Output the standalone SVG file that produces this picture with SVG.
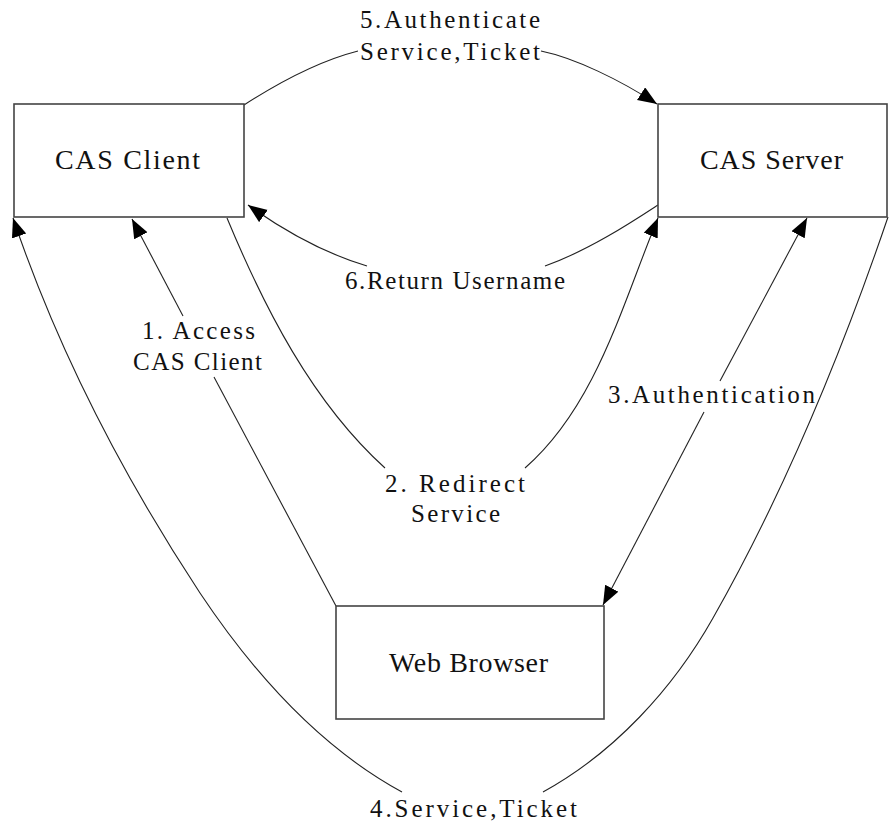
<svg xmlns="http://www.w3.org/2000/svg" width="890" height="825" viewBox="0 0 890 825">
  <defs>
    <marker id="arrow" markerUnits="userSpaceOnUse" markerWidth="22" markerHeight="16" refX="19" refY="7.5" orient="auto">
      <path d="M0,0 L19,7.5 L0,15 z" fill="#000"/>
    </marker>
  </defs>
  <style>
    .node rect { fill: #fff; stroke: #444; stroke-width: 1.6; }
    .node text { font-family: "Liberation Serif", "Times New Roman", serif; font-size: 28px; fill: #111; }
    .conn path { fill: none; stroke: #222; stroke-width: 1.1; }
    .lbl { font-family: "Liberation Serif", "Times New Roman", serif; font-size: 25px; fill: #111; }
  </style>
  <rect width="890" height="825" fill="#fff"/>

  <g id="connectors" class="conn">
    <!-- 1. browser to client -->
    <path d="M336,606 L214,377"/>
    <path d="M183,316 L132,219" marker-end="url(#arrow)"/>
    <!-- 2. client redirect to server -->
    <path d="M227,218 C264,307 312,402 385,468"/>
    <path d="M525,468 C596,406 622,305 658,218" marker-end="url(#arrow)"/>
    <!-- 3. authentication, both ways -->
    <path d="M720,381 L807,218" marker-end="url(#arrow)"/>
    <path d="M704,412 L603,605" marker-end="url(#arrow)"/>
    <!-- 4. service ticket loop -->
    <path d="M402,792 C319,747 252,671 200,593 C123,476 58,351 13,218" marker-end="url(#arrow)"/>
    <path d="M543,792 C614,753 673,689 713,618 C785,491 841,355 888,217"/>
    <!-- 5. client to server -->
    <path d="M244,105 C275,85 315,62 358,51"/>
    <path d="M541,51 C575,58 620,80 657,104" marker-end="url(#arrow)"/>
    <!-- 6. server back to client -->
    <path d="M658,205 C635,220 590,250 545,266"/>
    <path d="M367,266 C330,255 290,235 248,205" marker-end="url(#arrow)"/>
  </g>

  <g id="labels">
    <text class="lbl" x="360" y="28" textLength="180" lengthAdjust="spacing">5.Authenticate</text>
    <text class="lbl" x="360" y="60" textLength="180" lengthAdjust="spacing">Service,Ticket</text>
    <text class="lbl" x="345" y="289" textLength="220" lengthAdjust="spacing">6.Return Username</text>
    <text class="lbl" x="142" y="339" textLength="113" lengthAdjust="spacing">1. Access</text>
    <text class="lbl" x="133" y="370" textLength="129" lengthAdjust="spacing">CAS Client</text>
    <text class="lbl" x="385" y="492" textLength="140" lengthAdjust="spacing">2. Redirect</text>
    <text class="lbl" x="411" y="522" textLength="89" lengthAdjust="spacing">Service</text>
    <text class="lbl" x="608" y="403" textLength="207" lengthAdjust="spacing">3.Authentication</text>
    <text class="lbl" x="370" y="817" textLength="207" lengthAdjust="spacing">4.Service,Ticket</text>
  </g>

  <g id="cas-client" class="node">
    <rect x="14" y="104" width="230" height="113"/>
    <text x="55" y="169" textLength="145" lengthAdjust="spacing">CAS Client</text>
  </g>
  <g id="cas-server" class="node">
    <rect x="658" y="104" width="229" height="113"/>
    <text x="700" y="169" textLength="143" lengthAdjust="spacing">CAS Server</text>
  </g>
  <g id="web-browser" class="node">
    <rect x="336" y="606" width="268" height="113"/>
    <text x="389" y="672" textLength="159" lengthAdjust="spacing">Web Browser</text>
  </g>
</svg>
